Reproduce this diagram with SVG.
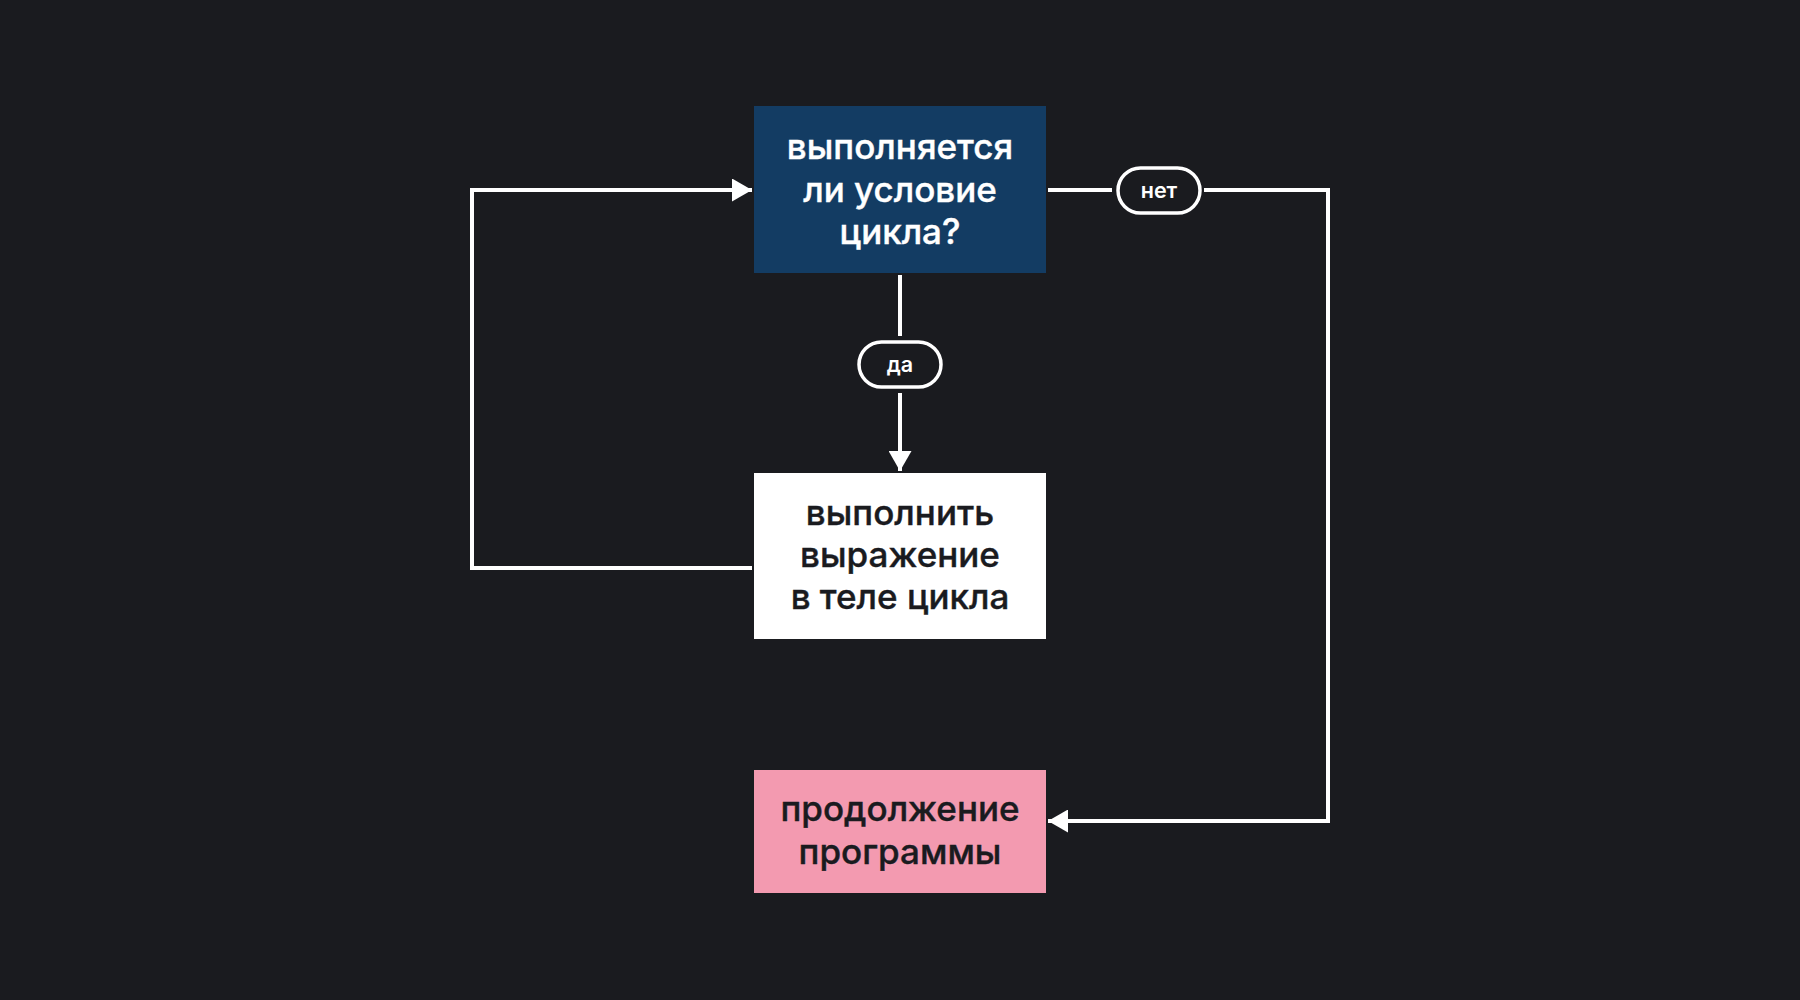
<svg xmlns="http://www.w3.org/2000/svg" width="1800" height="1000" viewBox="0 0 1800 1000">
<defs>
<style>
.bg{fill:#1a1b1f}
.line{fill:none;stroke:#ffffff;stroke-width:4}
.pill{fill:#1a1b1f;stroke:#ffffff;stroke-width:3.5}
.lbl{font-family:Inter,"Liberation Sans",sans-serif;font-weight:600;font-size:21.5px;fill:#ffffff;text-anchor:middle}
.t{font-family:Inter,"Liberation Sans",sans-serif;font-weight:500;font-size:35px;text-anchor:middle;stroke-width:0.4px}
</style>
<marker id="arr" markerWidth="20" markerHeight="23" refX="20" refY="11.5" orient="auto" markerUnits="userSpaceOnUse">
<path d="M0,0 L20,11.5 L0,23 Z" fill="#ffffff"/>
</marker>
</defs>
<rect class="bg" x="0" y="0" width="1800" height="1000"/>
<g id="connectors">
<path class="line" d="M900,275 V336"/>
<path class="line" d="M900,393 V471" marker-end="url(#arr)"/>
<path class="line" d="M752,568 H472 V190 H752" marker-end="url(#arr)"/>
<path class="line" d="M1048,190 H1112"/>
<path class="line" d="M1204,190 H1328 V821 H1048" marker-end="url(#arr)"/>
<g id="label-da">
<rect class="pill" x="859" y="342" width="82" height="45" rx="22.5"/>
<text class="lbl" x="900" y="372">да</text>
</g>
<g id="label-net">
<rect class="pill" x="1118" y="168" width="82" height="45" rx="22.5"/>
<text class="lbl" x="1159" y="198">нет</text>
</g>
</g>
<g id="node-condition">
<rect x="754" y="106" width="292" height="167" fill="#133c63"/>
<text class="t" fill="#ffffff" stroke="#ffffff"><tspan x="900" y="159">выполняется</tspan><tspan x="900" y="201.5">ли условие</tspan><tspan x="900" y="244">цикла?</tspan></text>
</g>
<g id="node-body">
<rect x="754" y="473" width="292" height="166" fill="#ffffff"/>
<text class="t" fill="#1a1b1f" stroke="#1a1b1f"><tspan x="900" y="525">выполнить</tspan><tspan x="900" y="567">выражение</tspan><tspan x="900" y="609">в теле цикла</tspan></text>
</g>
<g id="node-continue">
<rect x="754" y="770" width="292" height="123" fill="#f39ab0"/>
<text class="t" fill="#1a1b1f" stroke="#1a1b1f"><tspan x="900" y="821">продолжение</tspan><tspan x="900" y="863.5">программы</tspan></text>
</g>
</svg>
